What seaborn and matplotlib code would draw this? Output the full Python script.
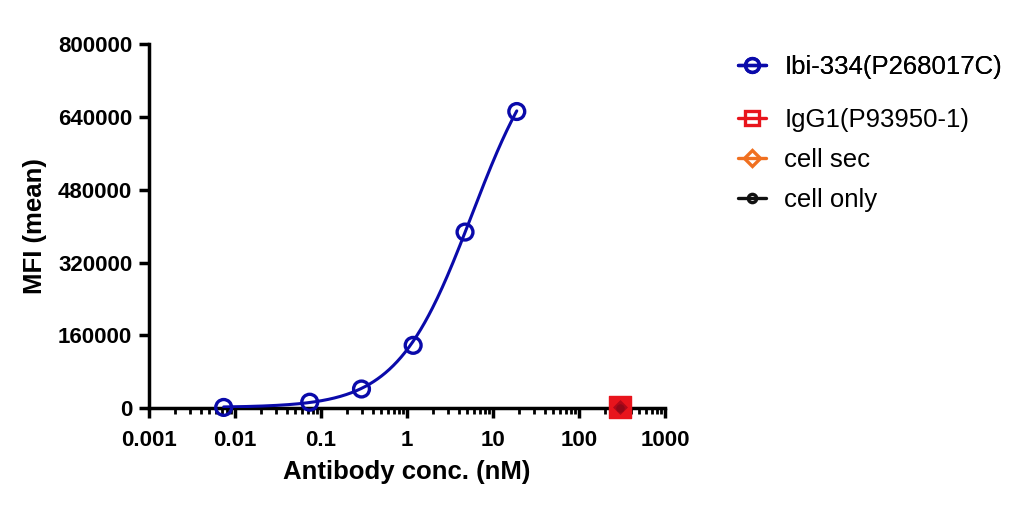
import numpy as np
import pandas as pd
import seaborn as sns
import matplotlib
matplotlib.use("Agg")
import matplotlib.pyplot as plt
from matplotlib.lines import Line2D
from matplotlib.ticker import LogLocator, NullFormatter

# ---- data ----
ibi_conc = [0.0074, 0.074, 0.296, 1.18, 4.73, 18.9]
ibi_mfi = [1500, 13000, 42000, 138000, 387000, 652000]
igg_conc = [300]
igg_mfi = [2000]
sec_conc = [300]
sec_mfi = [1500]
only_conc = [300]
only_mfi = [1200]

# 4PL fit parameters (estimated from the drawn curve)
fit_bottom = 1500
fit_top = 850000
fit_ec50 = 5.7
fit_hill = 1.0

series_names = ["Ibi-334(P268017C)", "IgG1(P93950-1)", "cell sec", "cell only"]
colors = ["#0A0AAA", "#E8141C", "#F07020", "#111111"]

yticks = [0, 160000, 320000, 480000, 640000, 800000]
xticks = [0.001, 0.01, 0.1, 1, 10, 100, 1000]
xticklabels = ["0.001", "0.01", "0.1", "1", "10", "100", "1000"]

sns.set_theme(style="ticks")
plt.rcParams["font.family"] = ["Liberation Sans", "DejaVu Sans"]
plt.rcParams["text.color"] = "black"

fig = plt.figure(figsize=(10.2, 5.14), dpi=100)
ax = fig.add_axes([0.146, 0.206, 0.506, 0.708])

# fitted curve
xc = np.logspace(np.log10(min(ibi_conc)), np.log10(max(ibi_conc)), 300)
yc = fit_bottom + (fit_top - fit_bottom) * xc**fit_hill / (fit_ec50**fit_hill + xc**fit_hill)
sns.lineplot(x=xc, y=yc, ax=ax, color=colors[0], lw=2.2, zorder=3)

sns.scatterplot(x=ibi_conc, y=ibi_mfi, ax=ax, marker="o", s=130, facecolor="none",
                edgecolor=colors[0], linewidth=2.4, zorder=4, clip_on=False)
sns.scatterplot(x=igg_conc, y=igg_mfi, ax=ax, marker="s", s=230, color=colors[1],
                edgecolor=colors[1], linewidth=1, zorder=5, clip_on=False)
sns.scatterplot(x=sec_conc, y=sec_mfi, ax=ax, marker="D", s=50, color="#B00818",
                edgecolor="#B00818", linewidth=0.5, zorder=6, clip_on=False)
sns.scatterplot(x=only_conc, y=only_mfi, ax=ax, marker="o", s=30, color="#900818",
                edgecolor="#900818", linewidth=0.5, zorder=7, clip_on=False)

ax.set_xscale("log")
ax.set_xlim(0.001, 1000)
ax.set_ylim(0, 800000)
ax.set_xticks(xticks)
ax.set_xticklabels(xticklabels)
ax.xaxis.set_minor_locator(LogLocator(base=10, subs=np.arange(2, 10)))
ax.xaxis.set_minor_formatter(NullFormatter())
ax.set_yticks(yticks)
ax.set_yticklabels([str(v) for v in yticks])

for sp in ["top", "right"]:
    ax.spines[sp].set_visible(False)
for sp in ["left", "bottom"]:
    ax.spines[sp].set_linewidth(2.5)
    ax.spines[sp].set_color("black")
ax.tick_params(axis="both", which="major", length=7, width=2.5, colors="black",
               labelsize=16, pad=5)
ax.tick_params(axis="x", which="major", pad=9)
ax.tick_params(axis="x", which="minor", length=4, width=2.0, colors="black")
for lab in ax.get_xticklabels() + ax.get_yticklabels():
    lab.set_fontweight("bold")

ax.set_xlabel("Antibody conc. (nM)", fontsize=18.5, fontweight="bold", labelpad=6, color="black")
ax.set_ylabel("MFI (mean)", fontsize=18.5, fontweight="bold", labelpad=8, color="black")
ax.set_facecolor("white")
fig.patch.set_facecolor("white")

# legend
mk = ["o", "s", "D", "o"]
msz = [10, 10, 8, 6]
handles = [Line2D([0], [0], color=c, lw=2.4, marker=m, markersize=s, markerfacecolor="none",
                  markeredgecolor=c, markeredgewidth=2.4) for c, m, s in zip(colors, mk, msz)]
leg1 = fig.legend(handles[:1], series_names[:1], loc="upper left",
                  bbox_to_anchor=(0.701, 0.938), frameon=False, fontsize=18.5,
                  handlelength=1.1, handletextpad=0.7, labelcolor="black")
fig.add_artist(leg1)
fig.legend(handles[1:], series_names[1:], loc="upper left",
           bbox_to_anchor=(0.701, 0.835), frameon=False, fontsize=18.5,
           handlelength=1.1, handletextpad=0.7, labelspacing=0.62, labelcolor="black")

fig.savefig("out.png", dpi=100, facecolor="white")
